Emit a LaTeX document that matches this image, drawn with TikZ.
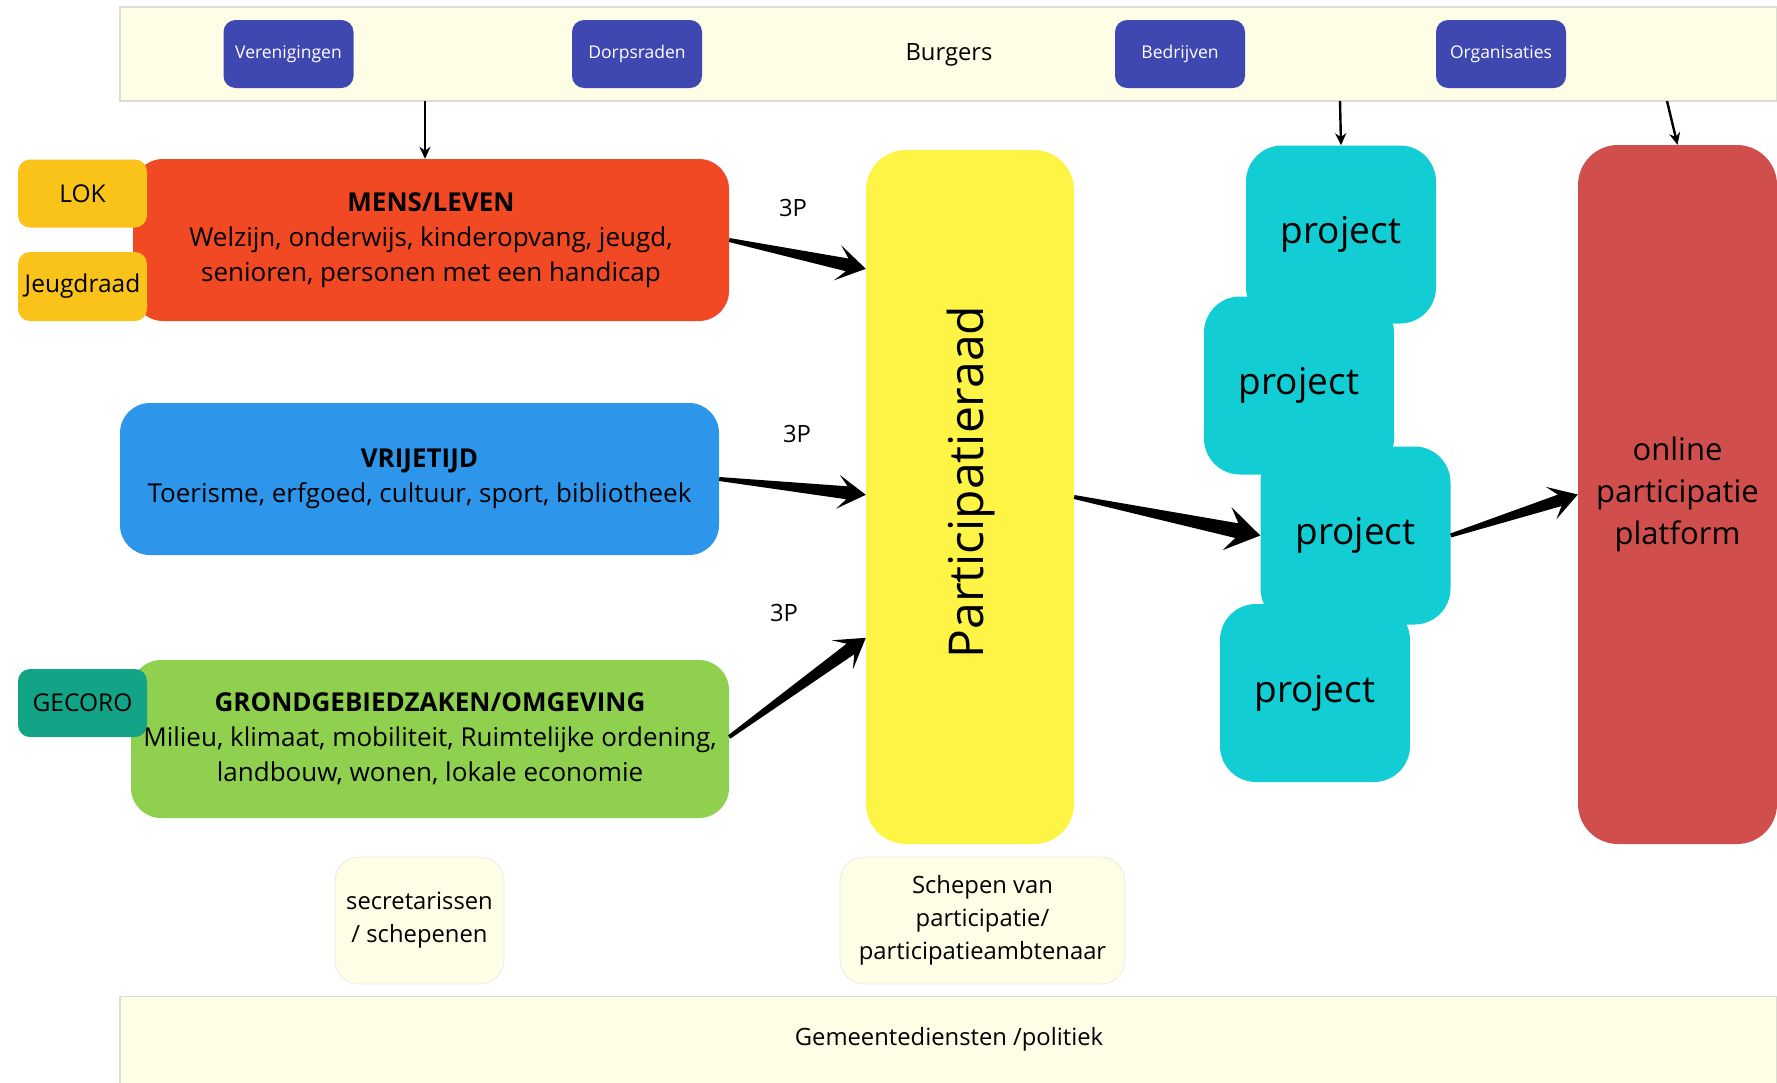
\documentclass[tikz,border=0pt]{standalone}
\usepackage{fontspec}
\setmainfont{Open Sans}
\usetikzlibrary{calc,arrows.meta}

\definecolor{cream}{HTML}{FEFDE6}
\definecolor{creamline}{HTML}{DDDDD6}
\definecolor{btnblue}{HTML}{3F48B0}
\definecolor{mensred}{HTML}{F04923}
\definecolor{lokyellow}{HTML}{F9C31A}
\definecolor{vrijblue}{HTML}{2D96EB}
\definecolor{groen}{HTML}{8FD14F}
\definecolor{gecoro}{HTML}{13A386}
\definecolor{paryellow}{HTML}{FEF445}
\definecolor{projteal}{HTML}{12CDD4}
\definecolor{platred}{HTML}{D04F4D}

\newcommand{\fatarrow}[7]{%
  \coordinate (#1s) at ($(#3)!#7!(#2)$);
  \coordinate (#1b) at ($(#3)!#6!(#2)$);
  \fill[black] ($(#2)!2pt!90:(#3)$) -- ($(#1s)!#4!90:(#3)$) -- ($(#1b)!#5!90:(#3)$) -- (#3)
    -- ($(#1b)!#5!-90:(#3)$) -- ($(#1s)!#4!-90:(#3)$) -- ($(#2)!2pt!-90:(#3)$) -- cycle;
}

\begin{document}
\begin{tikzpicture}[x=1pt,y=-1pt,
  band/.style={rectangle, fill=cream, draw=creamline, line width=1.2pt, inner sep=0pt},
  btn/.style={rectangle, rounded corners=12pt, fill=btnblue, text=white, inner sep=0pt,
    minimum width=130pt, minimum height=68pt, font=\fontsize{17.5}{20}\selectfont},
  areabox/.style={rectangle, rounded corners=30pt, inner sep=0pt, align=center,
    font=\fontsize{26}{35}\selectfont},
  tag/.style={rectangle, rounded corners=12pt, inner sep=0pt, minimum width=129pt,
    minimum height=68pt, font=\fontsize{24.5}{28}\selectfont},
  projbox/.style={rectangle, rounded corners=36pt, fill=projteal, inner sep=0pt,
    minimum width=190pt, minimum height=178pt, font=\fontsize{37}{40}\selectfont},
  smallbox/.style={rectangle, rounded corners=24pt, fill=cream, draw=creamline!60, line width=0.8pt,
    inner sep=0pt, align=center, font=\fontsize{23.8}{33}\selectfont},
  thinarrow/.style={line width=2.4pt, -{Stealth[length=12pt,width=11pt]}},
  lbl/.style={inner sep=0pt, font=\fontsize{23.8}{28}\selectfont}
]
\useasboundingbox (0,0) rectangle (1777,1082);
\fill[white] (0,0) rectangle (1777,1082);

% top band
\node[band, minimum width=1657pt, minimum height=94pt] (top) at (948.5,54) {};
\node[btn] (ver) at (288.5,54) {Verenigingen};
\node[btn] (dorp) at (637,54) {Dorpsraden};
\node[lbl] (burg) at (949,55) {Burgers};
\node[btn] (bedr) at (1180,54) {Bedrijven};
\node[btn] (org) at (1501,54) {Organisaties};

% bottom band
\node[band, minimum width=1657pt, minimum height=87pt] (bot) at (948.5,1040) {};
\node[lbl] (gem) at (949,1039) {Gemeentediensten /politiek};

% area boxes
\node[areabox, fill=mensred, minimum width=596pt, minimum height=162pt] (mens) at (431,240)
  {\textbf{MENS/LEVEN}\\Welzijn, onderwijs, kinderopvang, jeugd,\\senioren, personen met een handicap};
\node[tag, fill=lokyellow] (lok) at (82.5,193.5) {LOK};
\node[tag, fill=lokyellow, minimum height=69pt] (jeugd) at (82.5,286.5) {Jeugdraad};

\node[areabox, fill=vrijblue, minimum width=599pt, minimum height=152pt] (vrij) at (419.5,479)
  {\textbf{VRIJETIJD}\\Toerisme, erfgoed, cultuur, sport, bibliotheek};

\node[areabox, fill=groen, minimum width=598pt, minimum height=158pt] (groen) at (430,739)
  {\textbf{GRONDGEBIEDZAKEN/OMGEVING}\\Milieu, klimaat, mobiliteit, Ruimtelijke ordening,\\landbouw, wonen, lokale economie};
\node[tag, fill=gecoro] (gec) at (82.5,703) {GECORO};

% participatieraad
\node[rectangle, rounded corners=40pt, fill=paryellow, inner sep=0pt,
  minimum width=208pt, minimum height=694pt] (par) at (970,497) {};
\node[inner sep=0pt, rotate=90, font=\fontsize{48}{50}\selectfont] (partxt) at (971,482) {Participatieraad};

% projects
\node[projbox] (p1) at (1341,234.5) {project};
\node[projbox] (p2) at (1299,385.5) {project};
\node[projbox] (p3) at (1355.5,535.5) {project};
\node[projbox] (p4) at (1315,693) {project};

% platform
\node[rectangle, rounded corners=40pt, fill=platred, inner sep=0pt, align=center,
  minimum width=199pt, minimum height=699pt, font=\fontsize{31}{42}\selectfont]
  (plat) at (1677.5,494.5) {online\\participatie\\platform};

% small boxes
\node[smallbox, minimum width=169pt, minimum height=127pt] (secr) at (419.5,920.5)
  {secretarissen\\/ schepenen};
\node[smallbox, minimum width=285pt, minimum height=127pt] (schep) at (982.5,920.5)
  {Schepen van\\participatie/\\participatieambtenaar};

% 3P labels
\node[lbl] (l1) at (793,208) {3P};
\node[lbl] (l2) at (797,434) {3P};
\node[lbl] (l3) at (784,613) {3P};

% thin arrows
\coordinate (s1) at (425,101);
\coordinate (s2) at (1340,101);
\coordinate (s3) at (1667,101);
\draw[thinarrow] (s1) -- (s1 |- mens.north);
\draw[thinarrow] (s2) -- (p1.north);
\draw[thinarrow] (s3) -- (plat.north);

% thick arrows
\coordinate (e1) at ($(par.north west)+(0,119)$);
\coordinate (e2) at ($(par.north west)+(0,345)$);
\coordinate (e3) at ($(par.north west)+(0,488)$);
\coordinate (g1) at ($(groen.east)+(0,-2)$);
\fatarrow{A1}{mens.east}{e1}{6.5pt}{18pt}{29pt}{19pt}
\fatarrow{A2}{vrij.east}{e2}{6.5pt}{17pt}{28pt}{19pt}
\fatarrow{A3}{g1}{e3}{6.5pt}{18pt}{29pt}{19pt}
\fatarrow{A4}{par.east}{p3.west}{7.5pt}{22pt}{34pt}{24pt}
\fatarrow{A5}{p3.east}{plat.west}{6pt}{17pt}{28pt}{19pt}
\end{tikzpicture}
\end{document}
